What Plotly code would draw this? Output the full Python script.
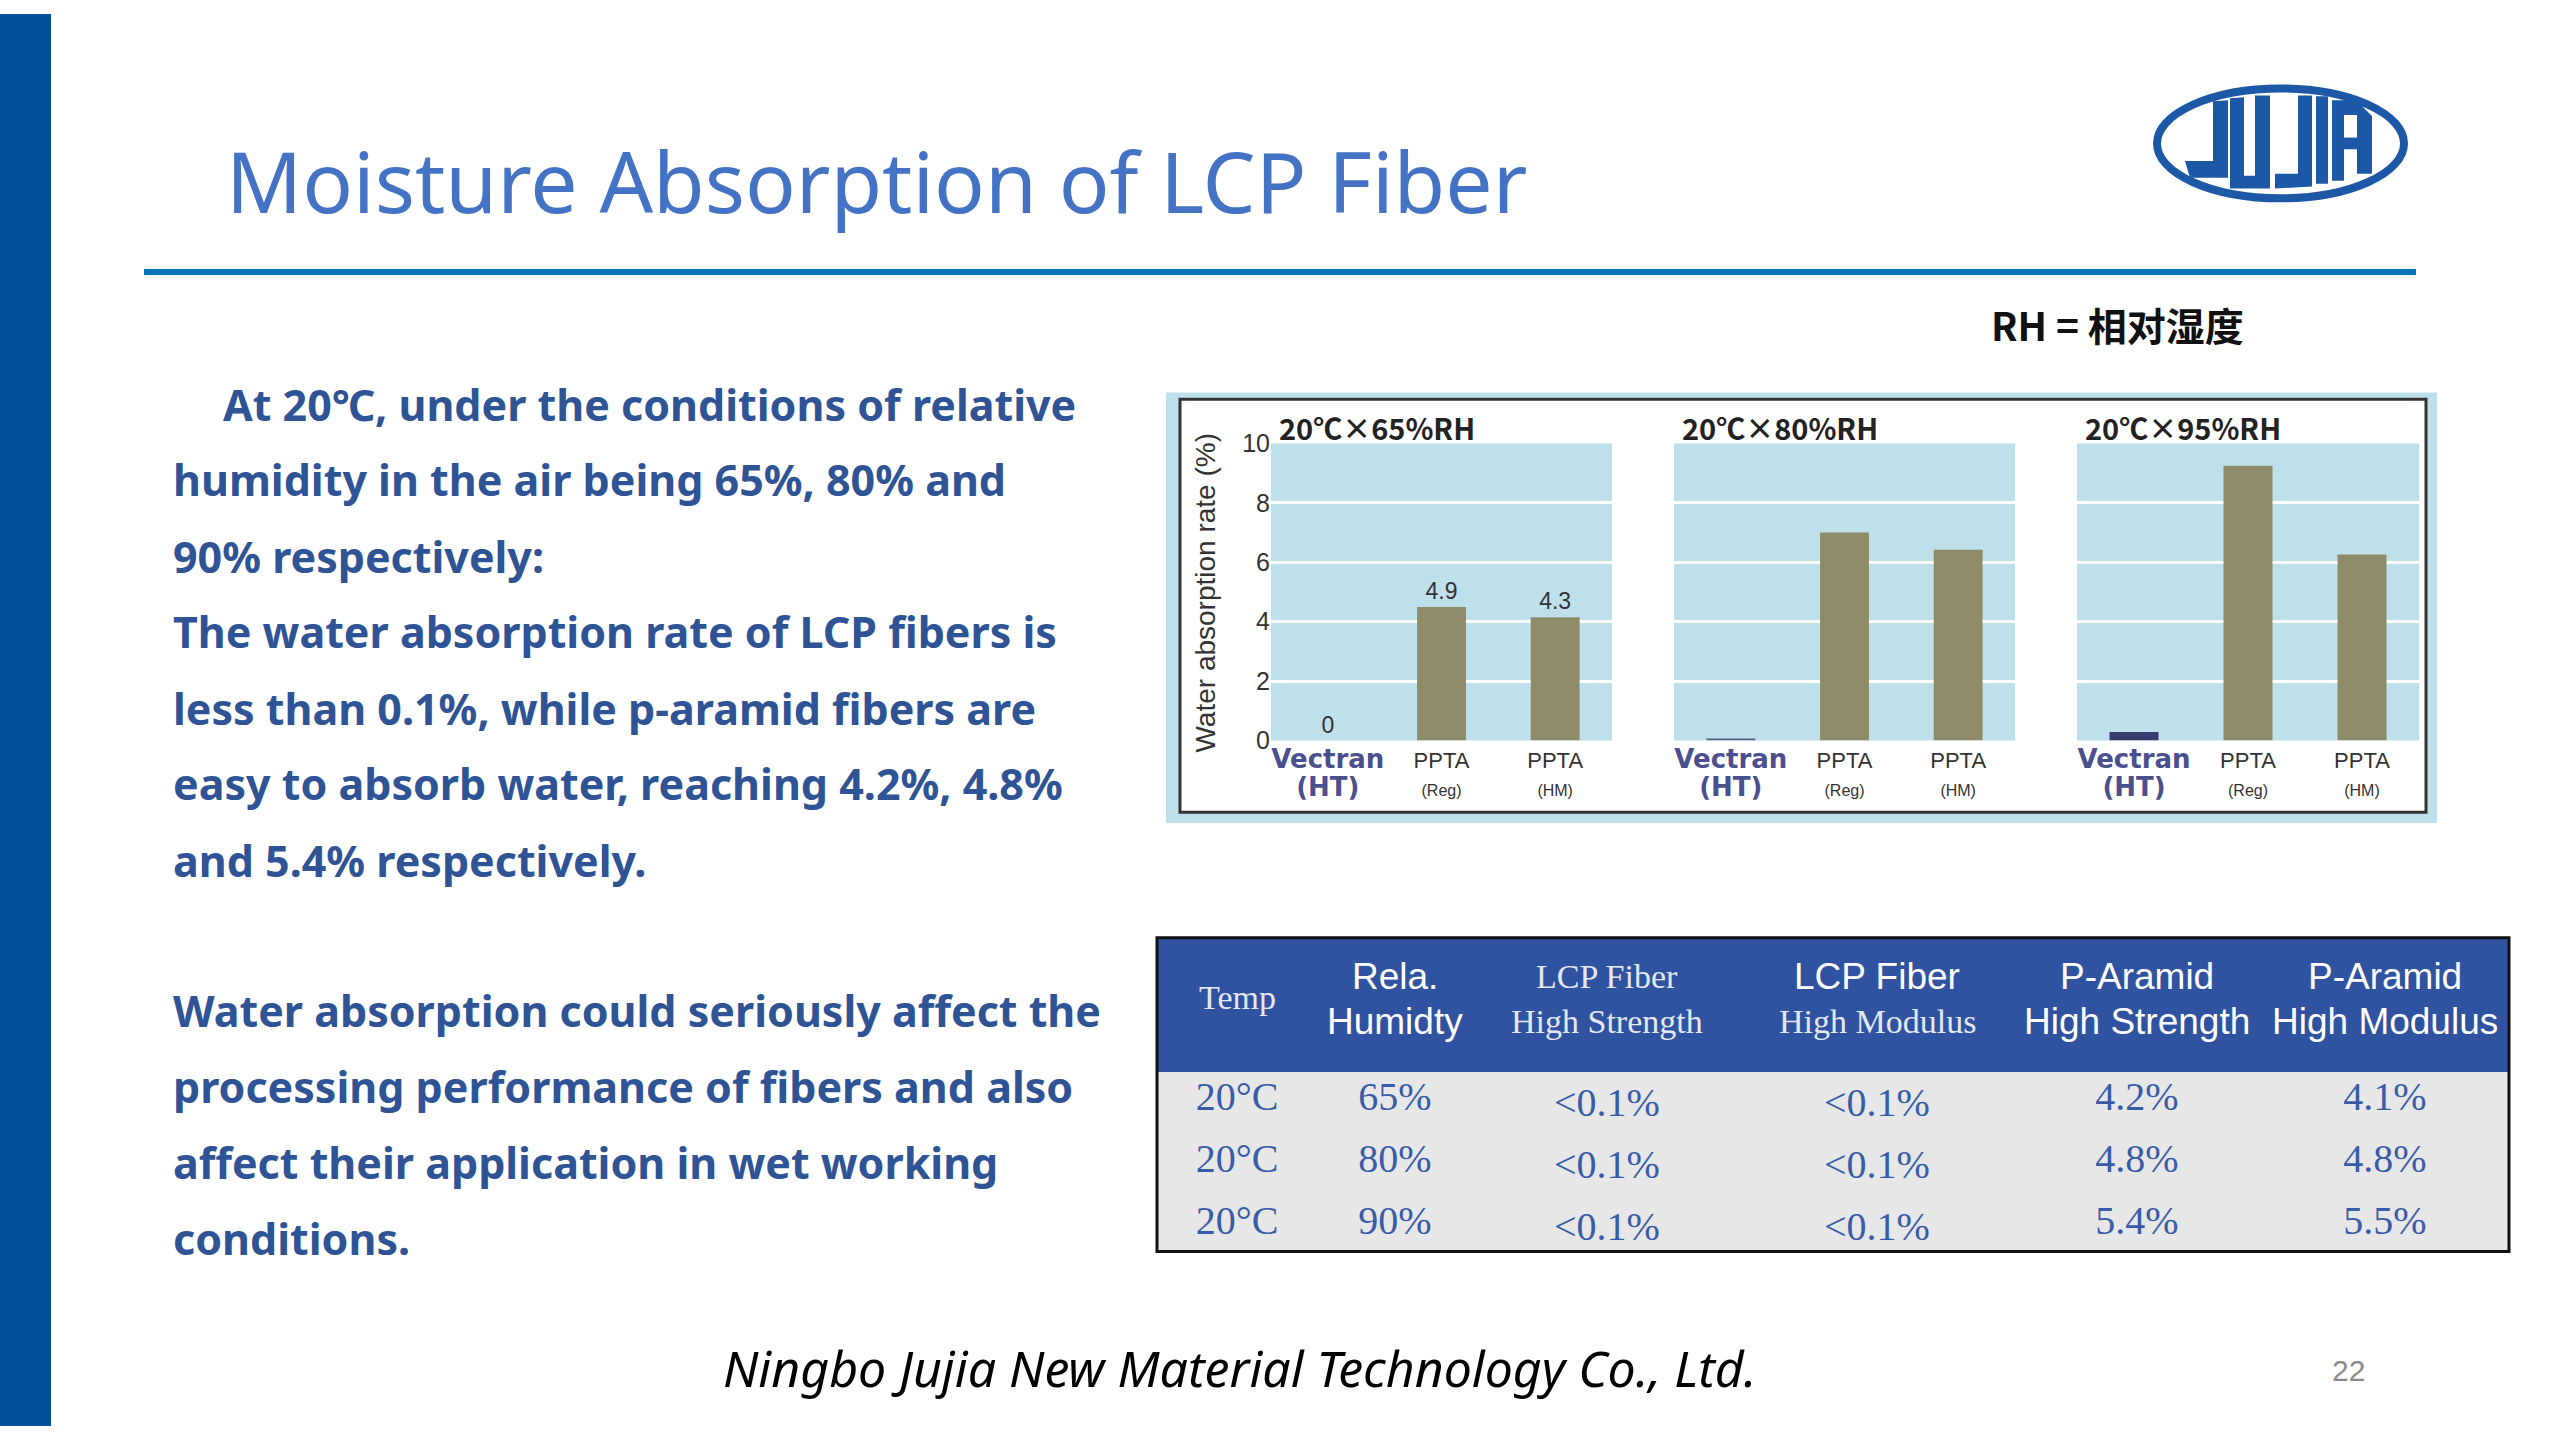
import plotly.graph_objects as go

W, H = 2560, 1440

# chart data
fibers = ["Vectran (HT)", "PPTA (Reg)", "PPTA (HM)"]
panel_titles = ["20℃×65%RH", "20℃×80%RH", "20℃×95%RH"]
rate_65 = [0.0, 4.5, 4.15]
rate_80 = [0.07, 7.0, 6.42]
rate_95 = [0.29, 9.25, 6.26]
labels_65 = ["0", "4.9", "4.3"]
y_ticks = [0, 2, 4, 6, 8, 10]

# table data
table_header = ["Temp", "Rela.<br>Humidty", "LCP Fiber<br>High Strength",
                "LCP Fiber<br>High Modulus", "P-Aramid<br>High Strength",
                "P-Aramid<br>High Modulus"]
header_serif = [[True], [False, False], [True, True], [False, True],
                [False, False], [False, False]]
temp = ["20°C", "20°C", "20°C"]
rel_humidity = ["65%", "80%", "90%"]
lcp_high_strength = ["&lt;0.1%", "&lt;0.1%", "&lt;0.1%"]
lcp_high_modulus = ["&lt;0.1%", "&lt;0.1%", "&lt;0.1%"]
aramid_high_strength = ["4.2%", "4.8%", "5.4%"]
aramid_high_modulus = ["4.1%", "4.8%", "5.5%"]

# slide text
title = "Moisture Absorption of LCP Fiber"
para1 = ["At 20℃, under the conditions of relative",
         "humidity in the air being 65%, 80% and",
         "90% respectively:",
         "The water absorption rate of LCP fibers is",
         "less than 0.1%, while p-aramid fibers are",
         "easy to absorb water, reaching 4.2%, 4.8%",
         "and 5.4% respectively."]
para2 = ["Water absorption could seriously affect the",
         "processing performance of fibers and also",
         "affect their application in wet working",
         "conditions."]
footer = "Ningbo Jujia New Material Technology Co., Ltd."
page_no = "22"
rh_note = "RH = 相对湿度"

BLUE_TXT = "#2F5496"
OLIVE = "#8E8C68"
PANEL_BG = "#BDE0EA"
HEAD_BLUE = "#2F53A0"


def px(x):
    return x / W


def py(y):
    return 1 - y / H


def rect(x0, y0, x1, y1, **kw):
    return dict(type="rect", xref="paper", yref="paper",
                x0=px(x0), x1=px(x1), y0=py(y1), y1=py(y0), **kw)


def path(points):
    return "M " + " L ".join("%.5f,%.5f" % (px(a), py(b)) for a, b in points) + " Z"


def note(x, y, text, font, xanchor="left", **kw):
    fig.add_annotation(x=px(x), y=py(y), xref="paper", yref="paper", text=text,
                       showarrow=False, xanchor=xanchor, yanchor="middle",
                       font=font, **kw)


fig = go.Figure()

# ---- bar panels ----
vec_colors = ["#4B4F8E", "#5C6190", "#383C6E"]
series = [rate_65, rate_80, rate_95]
domains = [(1271, 1612), (1674, 2015), (2077, 2419)]
VEC = "<b><span style='font-family:DejaVu Sans;color:#4B4F8E;font-size:26px'>%s</span></b>"
tick_text = [
    VEC % "Vectran" + "<br>" + VEC % "(HT)",
    "<span style='font-size:22px'>PPTA</span><br><span style='font-size:16px'>(Reg)</span>",
    "<span style='font-size:22px'>PPTA</span><br><span style='font-size:16px'>(HM)</span>",
]
for i, vals in enumerate(series):
    sfx = "" if i == 0 else str(i + 1)
    fig.add_trace(go.Bar(
        x=[0, 1, 2], y=vals, width=0.43,
        marker=dict(color=[vec_colors[i], OLIVE, OLIVE], line_width=0),
        text=labels_65 if i == 0 else None,
        textposition="outside", cliponaxis=False,
        textfont=dict(family="Liberation Sans", size=23, color="#333333"),
        xaxis="x" + sfx, yaxis="y" + sfx, showlegend=False, hoverinfo="skip"))
    d0, d1 = domains[i]
    fig.layout["xaxis" + sfx] = dict(
        domain=[px(d0), px(d1)], range=[-0.5, 2.5], tickvals=[0, 1, 2],
        ticktext=tick_text, showgrid=False, zeroline=False, showline=False,
        ticklabelstandoff=4,
        tickfont=dict(family="Liberation Sans", size=22, color="#333333"),
        anchor="y" + sfx, fixedrange=True)
    fig.layout["yaxis" + sfx] = dict(
        domain=[py(741), py(438)], range=[0, 10], tickvals=y_ticks,
        showticklabels=(i == 0), gridcolor="white", gridwidth=3,
        zeroline=False, showline=False,
        tickfont=dict(family="Liberation Sans", size=25, color="#333333"),
        anchor="x" + sfx, fixedrange=True)
    note(d0 + 6, 421, "<b>%s</b>" % panel_titles[i],
         dict(family="Noto Sans CJK SC", size=29, color="#222222"))

note(1206, 590, "Water absorption rate (%)",
     dict(family="Liberation Sans", size=28, color="#333333"),
     xanchor="center", textangle=-90)

# ---- table ----
col_w = [160, 156, 268, 272, 248, 248]
tab_x0, tab_x1, tab_y0, tab_y1 = 1157, 2509, 942, 1262
fig.add_trace(go.Table(
    domain=dict(x=[px(tab_x0), px(tab_x1)], y=[py(tab_y1), py(tab_y0)]),
    columnwidth=col_w,
    header=dict(values=[""] * len(table_header), fill_color=HEAD_BLUE,
                line_color=HEAD_BLUE, height=134),
    cells=dict(values=[temp, rel_humidity, lcp_high_strength, lcp_high_modulus,
                       aramid_high_strength, aramid_high_modulus],
               fill_color="#E7E7E7", line_color="#E7E7E7", align="center",
               height=62,
               font=dict(family="Liberation Serif", size=40, color="#3A5CA8"))))

# header labels, written over the table header row
cx = tab_x0
for lab, ser, w in zip(table_header, header_serif, col_w):
    lines = lab.split("<br>")
    ys = [1003] if len(lines) == 1 else [982, 1027]
    for line, s, yy in zip(lines, ser, ys):
        if s:
            f = dict(family="Liberation Serif", size=34, color="#E4E8F3")
        else:
            f = dict(family="Liberation Sans", size=37, color="white")
        note(cx + w / 2, yy, line, f, xanchor="center")
    cx += w

# ---- shapes ----
shapes = [
    rect(0, 0, 51, 1440, fillcolor="#00509B", line_width=0, layer="below"),
    rect(1166, 386, 2437, 825, fillcolor=PANEL_BG, line_width=0, layer="below"),
    rect(1180, 393, 2426, 814, fillcolor="white",
         line=dict(color="#333333", width=3), layer="below"),
]
for i in range(3):
    sfx = "" if i == 0 else str(i + 1)
    shapes.append(dict(type="rect", xref="x%s domain" % sfx, yref="y%s domain" % sfx,
                       x0=0, x1=1, y0=0, y1=1, fillcolor=PANEL_BG,
                       line_width=0, layer="below"))
shapes.append(dict(type="line", xref="paper", yref="paper", x0=px(144), x1=px(2416),
                   y0=py(263), y1=py(263), line=dict(color="#0070C0", width=6)))
shapes.append(rect(tab_x0, tab_y0, tab_x1, tab_y1, line=dict(color="#111111", width=3),
                   layer="above"))

# logo
LOGO = "#1D58A6"
shapes.append(dict(type="circle", xref="paper", yref="paper",
                   x0=px(2157), x1=px(2404), y0=py(188), y1=py(76),
                   line=dict(color=LOGO, width=8)))
letters = [
    [(2213, 89), (2228, 88), (2228, 167), (2190, 167), (2185, 150), (2213, 150)],
    [(2230, 86), (2244, 85), (2244, 165), (2255, 165), (2255, 83), (2270, 83),
     (2270, 178), (2230, 178)],
    [(2298, 83), (2312, 83), (2312, 176), (2275, 178), (2275, 163), (2298, 163)],
    [(2316, 84), (2328, 84), (2328, 173), (2316, 173)],
    [(2332, 88), (2356, 88), (2372, 104), (2372, 163), (2357, 163), (2357, 138),
     (2344, 138), (2344, 170), (2332, 170)],
]
for pts in letters:
    shapes.append(dict(type="path", xref="paper", yref="paper", path=path(pts),
                       fillcolor=LOGO, line_width=0))
shapes.append(dict(type="path", xref="paper", yref="paper",
                   path=path([(2344, 103), (2357, 103), (2357, 126), (2344, 126)]),
                   fillcolor="white", line_width=0))
fig.update_layout(shapes=shapes)

# ---- slide text ----
note(224, 170, title, dict(family="Noto Sans", size=84, color="#4472C4"))
note(2117, 316, "<b>%s</b>" % rh_note,
     dict(family="Noto Sans CJK SC", size=39, color="#111111"), xanchor="center")

body_font = dict(family="Noto Sans", size=43, color=BLUE_TXT)
y1 = [398, 475, 553, 630, 708, 785, 863]
for k, line in enumerate(para1):
    note(221 if k == 0 else 171, y1[k], "<b>%s</b>" % line, body_font)
y2 = [1016, 1094, 1171, 1249]
for k, line in enumerate(para2):
    note(171, y2[k], "<b>%s</b>" % line, body_font)

note(1240, 1381, "<i>%s</i>" % footer,
     dict(family="Noto Sans", size=50, color="#000000"), xanchor="center")
note(2348, 1383, page_no, dict(family="Liberation Sans", size=30, color="#8C8C8C"),
     xanchor="center")

fig.update_layout(width=W, height=H, margin=dict(l=0, r=0, t=0, b=0),
                  paper_bgcolor="white", plot_bgcolor="rgba(0,0,0,0)",
                  bargap=0.57)

# pin the plot to the page corner so the body margin does not shift it
pin = ("document.body.style.margin='0';"
       "var d=document.getElementById('{plot_id}');"
       "d.style.position='absolute';d.style.left='0px';d.style.top='0px';")
fig.write_html("out.html", config={"displayModeBar": False}, post_script=pin)
